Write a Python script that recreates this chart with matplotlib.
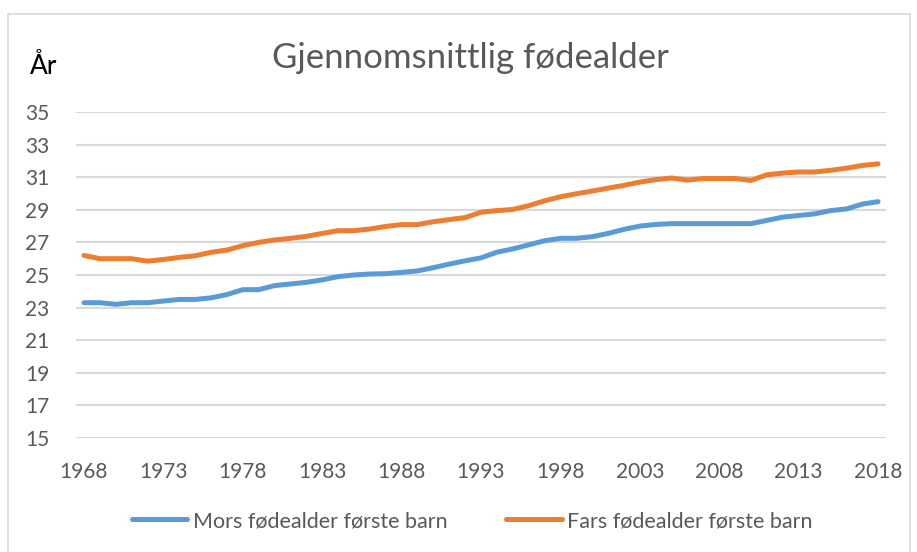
import matplotlib.pyplot as plt
from matplotlib.patches import Rectangle

years = list(range(1968, 2019))
mors = [23.3, 23.3, 23.2, 23.3, 23.3, 23.4, 23.5, 23.5, 23.6, 23.8,
        24.1, 24.1, 24.35, 24.45, 24.55, 24.7, 24.9, 25.0, 25.06, 25.08,
        25.16, 25.25, 25.45, 25.67, 25.87, 26.05, 26.4, 26.6, 26.85, 27.1,
        27.25, 27.25, 27.35, 27.55, 27.8, 28.0, 28.1, 28.15, 28.15, 28.15,
        28.15, 28.15, 28.15, 28.35, 28.55, 28.65, 28.75, 28.95, 29.05, 29.35,
        29.5]
fars = [26.2, 26.0, 26.0, 26.0, 25.85, 25.95, 26.08, 26.18, 26.39, 26.53,
        26.8, 27.0, 27.15, 27.25, 27.37, 27.55, 27.72, 27.72, 27.82, 27.98,
        28.09, 28.09, 28.27, 28.4, 28.52, 28.85, 28.95, 29.02, 29.25, 29.55,
        29.8, 29.98, 30.15, 30.33, 30.5, 30.7, 30.85, 30.95, 30.82, 30.92,
        30.92, 30.92, 30.8, 31.15, 31.25, 31.32, 31.32, 31.42, 31.55, 31.72,
        31.82]
xticks = list(range(1968, 2019, 5))
yticks = list(range(15, 36, 2))

plt.rcParams['font.family'] = ['Lato', 'DejaVu Sans']
grey = '#595959'

fig = plt.figure(figsize=(9.17, 5.52), dpi=100)
fig.patches.append(Rectangle((8 / 917, -0.05), 902 / 917, 1 - 14 / 552 + 0.05,
                             transform=fig.transFigure, fill=False,
                             edgecolor='#d9d9d9', linewidth=1.2))

ax = fig.add_axes([76 / 917, 114 / 552, 810 / 917, 326 / 552])
ax.plot(years, mors, color='#5B9BD5', linewidth=3.6, solid_capstyle='round',
        label='Mors fødealder første barn')
ax.plot(years, fars, color='#ED7D31', linewidth=3.6, solid_capstyle='round',
        label='Fars fødealder første barn')

ax.set_xlim(1967.5, 2018.5)
ax.set_ylim(15, 35)
ax.set_xticks(xticks)
ax.set_yticks(yticks)
ax.grid(axis='y', color='#d9d9d9', linewidth=1.5)
ax.set_axisbelow(True)
for s in ax.spines.values():
    s.set_visible(False)
ax.tick_params(length=0, labelsize=15, colors=grey)
ax.tick_params(axis='y', pad=19)
ax.tick_params(axis='x', pad=17)

fig.text(470 / 917, 1 - 58 / 552, 'Gjennomsnittlig fødealder', ha='center',
         va='center', fontsize=25, color=grey)
fig.text(30 / 917, 1 - 66 / 552, 'År', ha='left', va='center', fontsize=19,
         color='black')

fig.legend(loc='center', bbox_to_anchor=(472 / 917, 1 - 521 / 552), ncol=2,
           frameon=False, handlelength=2.6, handletextpad=0.25,
           columnspacing=2.7, fontsize=15.5, labelcolor=grey)

fig.savefig('out.png', dpi=100)
